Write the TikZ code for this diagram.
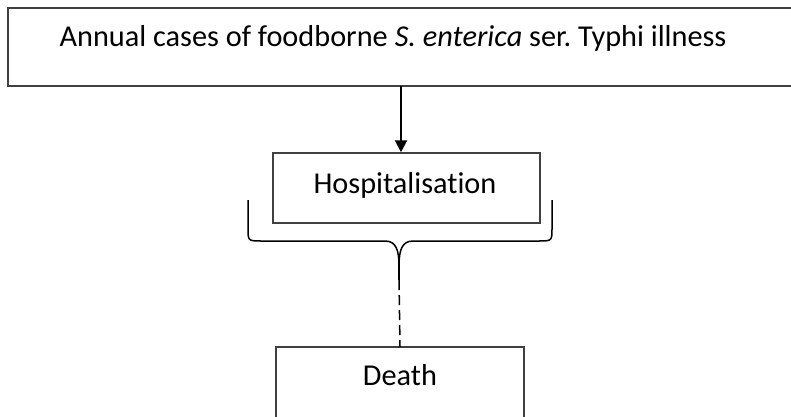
\documentclass[tikz,border=0pt]{standalone}
\usepackage{fontspec}
\setmainfont{Carlito}[Ligatures=NoCommon]
\usetikzlibrary{arrows.meta}
\frenchspacing
\begin{document}
\begin{tikzpicture}[x=1pt,y=-1pt,
  boxline/.style={draw=black!75, line width=1.5pt},
  lbl/.style={font=\fontsize{30.3}{36}\selectfont, inner sep=0pt, anchor=center}]
\useasboundingbox (0,0) rectangle (791,416);
\clip (0,0) rectangle (791,416);
\fill[white] (0,0) rectangle (791,416);
% boxes
\draw[boxline] (8,8) rectangle (800,86);
\coordinate (casesS) at (401,86);
\node[lbl] (cases) at (393,38) {Annual cases of foodborne \textit{S. enterica} ser. Typhi illness};
\node[boxline, minimum width=267pt, minimum height=70pt, inner sep=0pt] (hosp) at (406.5,188) {};
\node[lbl] (hosptext) at (405,185) {Hospitalisation};
\draw[boxline] (276,347) rectangle (524,430);
\coordinate (deathN) at (400,347);
\node[lbl] (death) at (400,375) {Death};
% arrow into hospitalisation
\draw[line width=2pt, -{Triangle[length=12pt,width=12pt]}] (casesS) -- (casesS |- hosp.north);
% brace under hospitalisation
\draw[line width=1.5pt] (248,200) -- (248,228) .. controls (248,241) .. (262,241) -- (385,241)
  .. controls (396,241) and (399,250) .. (399,266);
\draw[line width=1.5pt] (552,200) -- (552,228) .. controls (552,241) .. (538,241) -- (413,241)
  .. controls (402,241) and (399,250) .. (399,266);
\coordinate (stem) at (399,280);
\draw[line width=2pt] (399,258) -- (stem);
\draw[line width=1.5pt, dash pattern=on 10pt off 5pt] (stem) -- (deathN);
\end{tikzpicture}
\end{document}
